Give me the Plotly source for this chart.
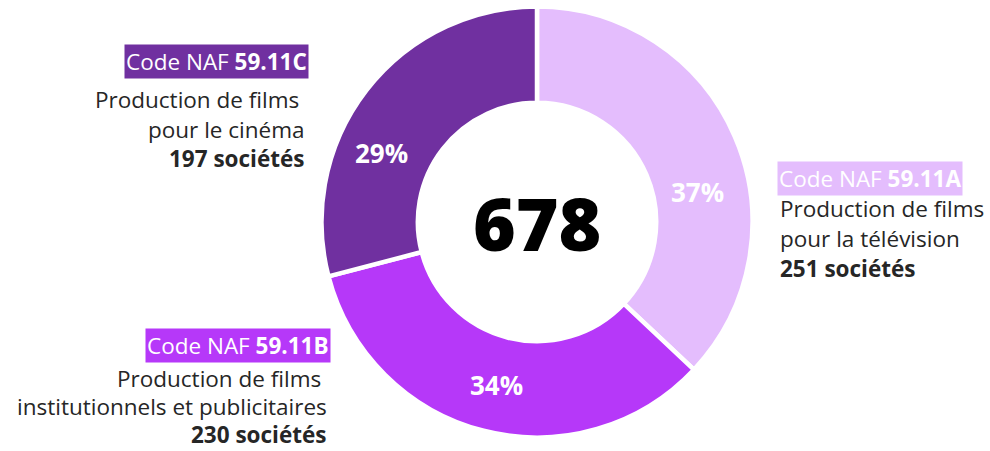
import plotly.graph_objects as go

# Répartition des sociétés de production par code NAF
codes = ["59.11A", "59.11B", "59.11C"]
activites = [
    ["Production de films", "pour la télévision"],
    ["Production de films ", "institutionnels et publicitaires"],
    ["Production de films ", "pour le cinéma"],
]
societes = [251, 230, 197]
couleurs = ["#E4BDFD", "#B638F9", "#7030A0"]

W, H = 990, 451
total = sum(societes)
pcts = [round(100 * v / total) for v in societes]

FONT = "Open Sans"
TXT = "#262626"


def px(x):
    return x / W


def py(y):
    return 1 - y / H


# centre et rayon du donut en pixels
CX, CY, R = 537, 222, 215.5

fig = go.Figure(
    go.Pie(
        values=societes,
        labels=codes,
        marker=dict(colors=couleurs, line=dict(color="white", width=4.5)),
        hole=0.553,
        sort=False,
        direction="clockwise",
        rotation=0,
        textinfo="none",
        hoverinfo="label+value+percent",
        domain=dict(x=[px(CX - R), px(CX + R)], y=[py(CY + R), py(CY - R)]),
        showlegend=False,
    )
)

ann = []

# total au centre
ann.append(dict(x=px(CX), y=py(CY + 1), text=str(total),
                font=dict(family=FONT, size=73, color="black", weight=800),
                xanchor="center", yanchor="middle"))

# pourcentages sur les anneaux
pct_pos = [(697, 192), (496, 385), (381, 153)]
for p, (x, y) in zip(pcts, pct_pos):
    ann.append(dict(x=px(x), y=py(y), text=f"{p}%",
                    font=dict(family=FONT, size=26, color="white", weight=700),
                    xanchor="center", yanchor="middle"))

# étiquettes : (x, ancrage, y du bandeau, y des lignes)
blocs = [
    (777, "left", 178, [209, 238.5, 268]),
    (331, "right", 345, [378, 406.5, 434.5]),
    (309, "right", 61.5, [99.5, 129, 158.5]),
]
for code, lignes, n, coul, (x, anchor, yb, ys) in zip(codes, activites, societes, couleurs, blocs):
    ann.append(dict(x=px(x), y=py(yb), text=f"Code NAF <b>{code}</b>",
                    font=dict(family=FONT, size=22.5, color="white"),
                    bgcolor=coul, borderpad=1,
                    xanchor=anchor, yanchor="middle"))
    xt = x + (1 if anchor == "left" else -2)
    for texte, yl in zip(lignes + [f"<b>{n} sociétés</b>"], ys):
        ann.append(dict(x=px(xt), y=py(yl), text=texte,
                        font=dict(family=FONT, size=22.5, color=TXT),
                        xanchor=anchor, yanchor="middle"))

for a in ann:
    a.update(xref="paper", yref="paper", showarrow=False)

fig.update_layout(
    width=W, height=H,
    margin=dict(l=0, r=0, t=0, b=0),
    paper_bgcolor="white",
    plot_bgcolor="white",
    annotations=ann,
)

fig.write_html("out.html")
